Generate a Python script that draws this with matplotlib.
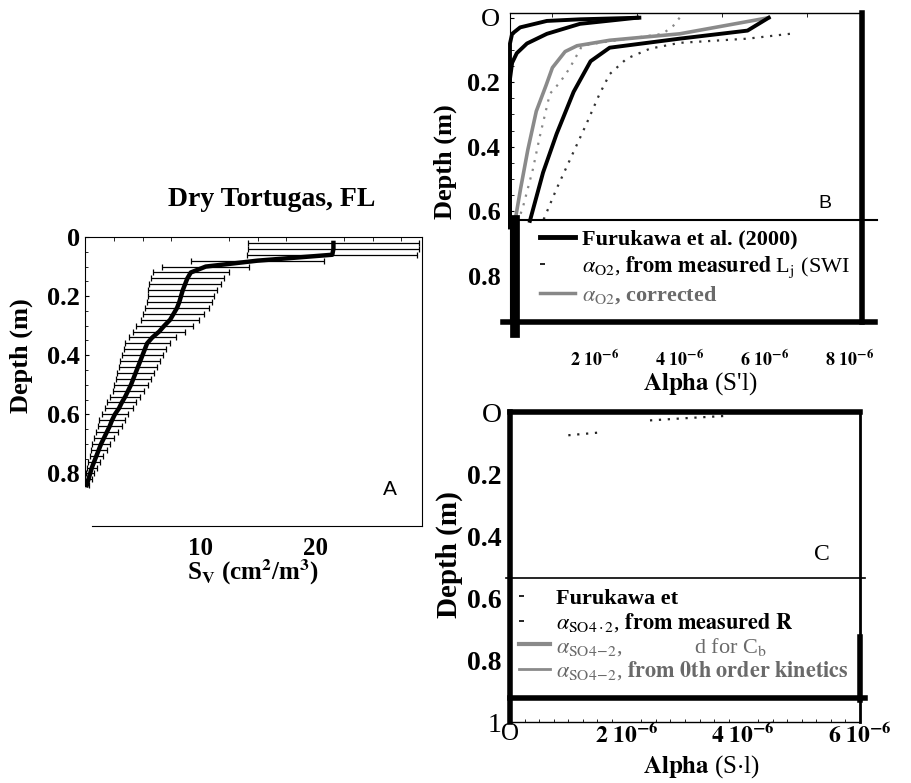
import matplotlib
matplotlib.use("Agg")
import matplotlib.pyplot as plt
from matplotlib.lines import Line2D
from matplotlib.ticker import MultipleLocator, FixedLocator
import numpy as np

plt.rcParams['font.family'] = ['Liberation Serif', 'DejaVu Serif']
plt.rcParams['mathtext.fontset'] = 'stix'

# --- panel A: specific surface area profile, Dry Tortugas ---
depth_a = [0.02, 0.04, 0.06, 0.08, 0.10, 0.12, 0.14, 0.16, 0.18, 0.20, 0.22,
           0.24, 0.26, 0.28, 0.30, 0.32, 0.34, 0.36, 0.38, 0.40, 0.42, 0.44,
           0.46, 0.48, 0.50, 0.52, 0.54, 0.56, 0.58, 0.60, 0.62, 0.64, 0.66,
           0.68, 0.70, 0.72, 0.74, 0.76, 0.78, 0.80, 0.82, 0.84]
sv_mean = [21.6, 21.6, 21.5, 15.0, 10.5, 9.2, 8.9, 8.7, 8.5, 8.35, 8.2,
           8.0, 7.7, 7.4, 6.9, 6.45, 5.85, 5.4, 5.2, 5.0, 4.8, 4.6,
           4.4, 4.2, 4.0, 3.75, 3.5, 3.2, 2.95, 2.6, 2.35, 2.15, 1.9,
           1.65, 1.4, 1.2, 1.0, 0.8, 0.6, 0.45, 0.3, 0.15]
sv_err = [7.4, 7.4, 7.4, 5.8, 3.8, 3.3, 3.2, 3.1, 3.0, 2.9, 2.85,
          2.75, 2.65, 2.55, 2.45, 2.25, 2.05, 1.95, 1.85, 1.8, 1.75, 1.65,
          1.6, 1.5, 1.45, 1.35, 1.3, 1.25, 1.2, 1.15, 1.1, 1.05, 0.98,
          0.88, 0.78, 0.68, 0.6, 0.5, 0.44, 0.37, 0.3, 0.2]

# --- panel B: alpha for O2 (units of 1e-6 s^-1) ---
k1_x = [3.05, 1.65, 0.87, 0.24, 0.05, 0.0, 0.0]
k1_d = [0.0, 0.005, 0.01, 0.03, 0.05, 0.08, 0.65]
k2_x = [3.0, 1.65, 0.87, 0.4, 0.16, 0.05, 0.0, 0.0]
k2_d = [0.0, 0.019, 0.05, 0.08, 0.11, 0.14, 0.19, 0.65]
furu_x = [6.1, 5.6, 4.0, 2.35, 1.9, 1.5, 1.1, 0.78, 0.47]
furu_d = [0.0, 0.04, 0.065, 0.093, 0.135, 0.23, 0.36, 0.48, 0.63]
corr_x = [6.1, 4.0, 2.35, 1.58, 1.3, 1.0, 0.85, 0.62, 0.42, 0.25, 0.12]
corr_d = [0.0, 0.05, 0.07, 0.087, 0.105, 0.155, 0.21, 0.29, 0.41, 0.53, 0.63]
meas1_x = [6.6, 5.6, 4.0, 3.3, 2.75, 2.35, 2.1, 1.8, 1.45, 1.1, 0.78]
meas1_d = [0.05, 0.065, 0.078, 0.096, 0.127, 0.175, 0.24, 0.33, 0.43, 0.53, 0.63]
meas2_x = [4.0, 3.85, 3.6, 2.1, 1.7, 1.4, 1.18, 0.94, 0.7, 0.54, 0.3, 0.19]
meas2_d = [0.0, 0.025, 0.05, 0.078, 0.087, 0.158, 0.2, 0.236, 0.37, 0.47, 0.59, 0.63]

# --- panel C: alpha for SO4 (units of 1e-6 s^-1) ---
so4_x = [1.0, 1.6, np.nan, 2.4, 3.0, 3.75]
so4_d = [0.075, 0.065, np.nan, 0.027, 0.02, 0.012]

alpha_ticks = [2, 4, 6, 8]
alpha_labels = [r'$\mathbf{2\ 10^{-6}}$', r'$\mathbf{4\ 10^{-6}}$',
                r'$\mathbf{6\ 10^{-6}}$', r'$\mathbf{8\ 10^{-6}}$']

fig = plt.figure(figsize=(9.12, 7.83), dpi=100)

# ---------------- A ----------------
axA = fig.add_axes([0.0932, 0.3282, 0.3695, 0.3691])
axA.errorbar(sv_mean, depth_a, xerr=sv_err, fmt='none', ecolor='black',
             elinewidth=0.9, capsize=2.2, capthick=0.9)
axA.plot(sv_mean, depth_a, color='black', lw=3.2)
axA.set_xlim(0, 29.3)
axA.set_ylim(0.978, 0)
axA.spines['left'].set_bounds(0, 0.84)
axA.spines['bottom'].set_bounds(0.6, 29.3)
axA.set_yticks([0, 0.2, 0.4, 0.6, 0.8], ['0', '0.2', '0.4', '0.6', '0.8'],
               fontsize=19, fontweight='bold')
axA.set_xticks([10, 20], ['10', '20'], fontsize=18, fontweight='bold')
axA.yaxis.set_minor_locator(FixedLocator(np.arange(0.05, 0.84, 0.05)))
axA.xaxis.set_minor_locator(MultipleLocator(2.5))
axA.tick_params(axis='y', which='both', direction='in', length=3, pad=3.5)
axA.tick_params(axis='y', which='minor', length=2)
axA.tick_params(axis='x', which='major', length=0, pad=8)
axA.tick_params(axis='x', which='minor', top=True, bottom=False,
                direction='in', length=3)
axA.set_title('Dry Tortugas, FL', fontsize=20, fontweight='bold', pad=22,
              x=0.555)
axA.set_ylabel('Depth (m)', fontsize=19, fontweight='bold')
axA.yaxis.set_label_coords(-0.154, 0.588)
axA.set_xlabel(r'S$_{\mathbf{V}}$ (cm$^{\mathbf{2}}$/m$^{\mathbf{3}}$)',
               fontsize=18, fontweight='bold')
axA.xaxis.set_label_coords(0.5, -0.11)
axA.text(0.905, 0.125, 'A', transform=axA.transAxes, fontsize=15,
         family='Liberation Sans', ha='center', va='center')

# ---------------- B ----------------
axB = fig.add_axes([0.5592, 0.5888, 0.386, 0.3946])
axB.plot(k1_x, k1_d, color='black', lw=2.8, clip_on=False)
axB.plot(k2_x, k2_d, color='black', lw=2.8, clip_on=False)
axB.plot(meas2_x, meas2_d, color='#888888', lw=1.6, ls=(0, (1, 3)))
axB.plot(meas1_x, meas1_d, color='#333333', lw=1.6, ls=(0, (1, 3)))
axB.plot(corr_x, corr_d, color='#8a8a8a', lw=2.6)
axB.plot(furu_x, furu_d, color='black', lw=2.8)
axB.set_xlim(0, 8.3)
axB.set_ylim(0.9436, -0.0146)
axB.set_yticks([0, 0.2, 0.4, 0.6, 0.8], ['O', '0.2', '0.4', '0.6', '0.8'],
               fontsize=19, fontweight='bold')
axB.get_yticklabels()[0].set_fontweight('normal')
axB.set_xticks(alpha_ticks, alpha_labels, fontsize=13)
axB.yaxis.set_minor_locator(MultipleLocator(0.05))
axB.xaxis.set_minor_locator(MultipleLocator(1))
axB.tick_params(axis='y', which='both', direction='in', length=3, pad=7)
axB.tick_params(axis='x', which='major', length=0, pad=20)
axB.tick_params(axis='x', which='minor', top=True, bottom=False,
                direction='in', length=3)
axB.spines['right'].set_linewidth(4)
axB.spines['bottom'].set_visible(False)
axB.spines['top'].set_linewidth(1)
axB.axhline(0.9436, xmin=-0.02, xmax=1.037, color='black', lw=4, clip_on=False)
axB.axhline(0.627, xmin=0, xmax=1.043, color='black', lw=1.5, clip_on=False)
axB.axvline(0.12, ymin=-0.035, ymax=0.33, color='black', lw=7, clip_on=False)
axB.set_ylabel('Depth (m)', fontsize=19, fontweight='bold')
axB.yaxis.set_label_coords(-0.15, 0.518)
axB.set_xlabel(r"$\mathbf{Alpha}$ (S'l)", fontsize=18)
axB.xaxis.set_label_coords(0.54, -0.155)
axB.text(0.895, 0.385, 'B', transform=axB.transAxes, fontsize=14,
         family='Liberation Sans', ha='center', va='center')

handles_b = [Line2D([], [], color='black', lw=3.5),
             Line2D([], [], color='black', lw=1.2, ls=(0, (3, 40))),
             Line2D([], [], color='#888888', lw=2.5)]
labels_b = ['Furukawa et al. (2000)',
            r"$\alpha_{\rm O2}$, $\mathbf{from\ measured}$ L$_{\rm j}$ (SWI",
            r"$\alpha_{\rm O2}$, corrected"]
legB = axB.legend(handles_b, labels_b, loc='upper left',
                  bbox_to_anchor=(0.085, 0.30), frameon=False, borderpad=0,
                  borderaxespad=0, handlelength=1.6, handletextpad=0.3,
                  labelspacing=0.2, prop={'size': 16})
tb = legB.get_texts()
tb[0].set_fontweight('bold')
tb[2].set_color('#6a6a6a')
tb[2].set_fontweight('bold')

# ---------------- C ----------------
axC = fig.add_axes([0.5592, 0.0779, 0.3838, 0.3959])
axC.plot(so4_x, so4_d, color='#222222', lw=1.6, ls=(0, (1, 3)))
axC.set_xlim(0, 6)
axC.set_ylim(1.0, 0)
axC.set_yticks([0, 0.2, 0.4, 0.6, 0.8, 1.0],
               ['O', '0.2', '0.4', '0.6', '0.8', '1'],
               fontsize=20, fontweight='bold')
ylc = axC.get_yticklabels()
ylc[0].set_fontweight('normal')
ylc[-1].set_fontweight('normal')
axC.set_xticks([0, 2, 4, 6], ['O'] + alpha_labels[:3], fontsize=17)
axC.get_xticklabels()[0].set_fontsize(18)
axC.xaxis.set_minor_locator(MultipleLocator(0.25))
axC.tick_params(axis='y', which='both', direction='in', length=0, pad=6)
axC.tick_params(axis='x', which='major', length=0, pad=1)
axC.tick_params(axis='x', which='minor', direction='in', length=2)
axC.spines['left'].set_linewidth(4)
axC.spines['top'].set_linewidth(4)
axC.spines['right'].set_linewidth(2)
axC.spines['bottom'].set_linewidth(1)
axC.axhline(0.535, xmin=-0.01, xmax=1.014, color='black', lw=1.2, clip_on=False)
axC.axhline(0.923, xmin=0, xmax=1.014, color='black', lw=4, clip_on=False)
axC.axvline(6, ymin=0.071, ymax=0.274, color='black', lw=4, clip_on=False)
axC.set_ylabel('Depth (m)', fontsize=21, fontweight='bold')
axC.yaxis.set_label_coords(-0.134, 0.539)
axC.set_xlabel(r"$\mathbf{Alpha}$ (S$\cdot$l)", fontsize=18)
axC.xaxis.set_label_coords(0.546, -0.1)
axC.text(0.891, 0.539, 'C', transform=axC.transAxes, fontsize=17,
         ha='center', va='center')

handles_c = [Line2D([], [], color='black', lw=1.2, ls=(0, (3, 40))),
             Line2D([], [], color='black', lw=1.2, ls=(0, (3, 40))),
             Line2D([], [], color='#8a8a8a', lw=3),
             Line2D([], [], color='#8a8a8a', lw=2)]
labels_c = ['Furukawa et',
            r"$\alpha_{\rm SO4\cdot2}$, $\mathbf{from}$ $\mathbf{measured}$ $\mathbf{R}$",
            r"$\alpha_{\rm SO4\!-\!2}$,             d for C$_{\rm b}$",
            r"$\alpha_{\rm SO4\!-\!2}$, $\mathbf{from\ 0th\ order\ kinetics}$"]
legC = axC.legend(handles_c, labels_c, loc='upper left',
                  bbox_to_anchor=(0.026, 0.43), frameon=False, borderpad=0,
                  borderaxespad=0, handlelength=1.4, handletextpad=0.25,
                  labelspacing=0.08, prop={'size': 16})
tc = legC.get_texts()
tc[0].set_fontweight('bold')
tc[2].set_color('#6a6a6a')
tc[3].set_color('#6a6a6a')

fig.savefig('out.png', dpi=100)
